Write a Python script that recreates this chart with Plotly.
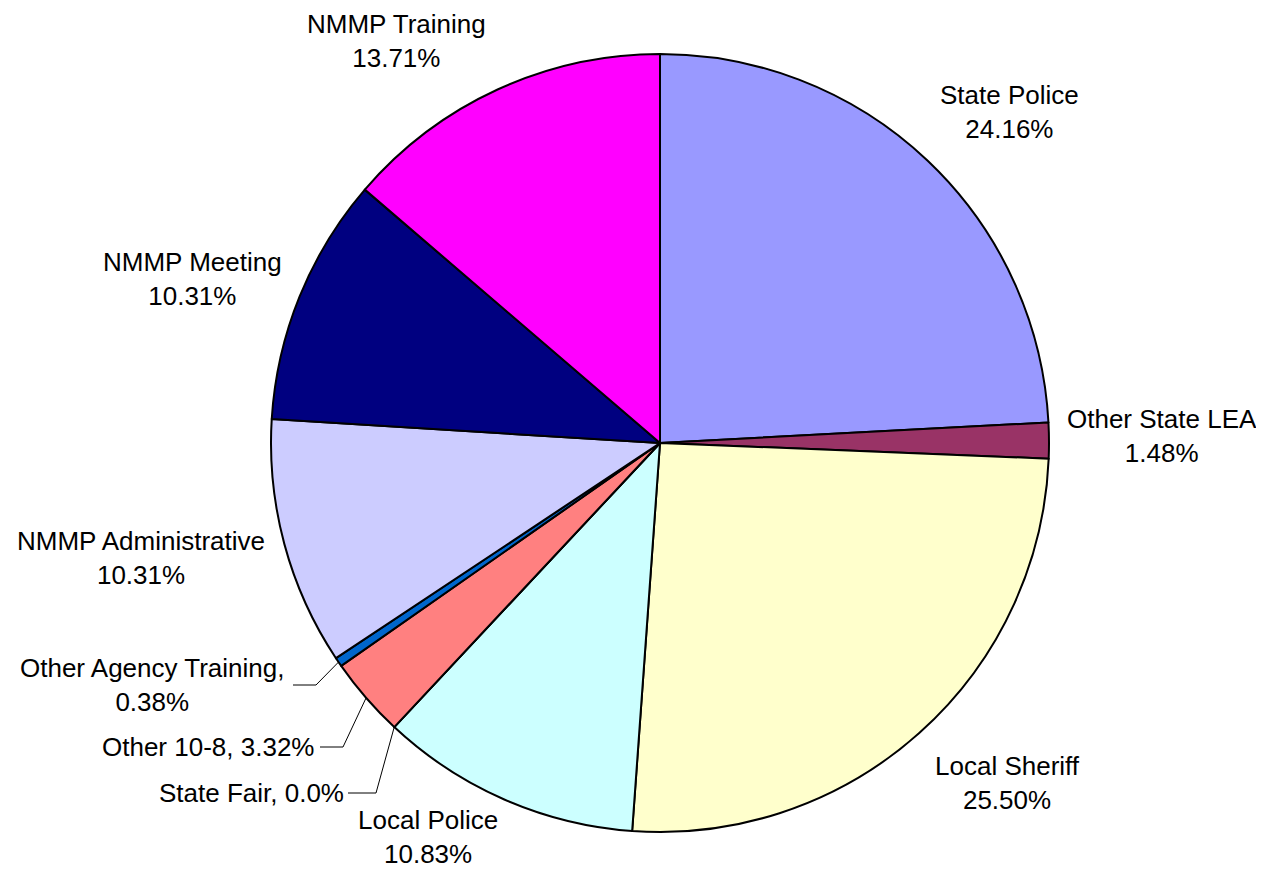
import math
import plotly.graph_objects as go

W, H = 1264, 882
OFF = 8  # page body margin: figure sits at (8, 8)
FW, FH = W - 2 * OFF, H - 2 * OFF

CATEGORIES = [
    "State Police", "Other State LEA", "Local Sheriff", "Local Police",
    "State Fair", "Other 10-8", "Other Agency Training",
    "NMMP Administrative", "NMMP Meeting", "NMMP Training",
]
SHARES = [24.16, 1.48, 25.50, 10.83, 0.0, 3.32, 0.38, 10.31, 10.31, 13.71]
PCT_TEXT = ["24.16%", "1.48%", "25.50%", "10.83%", "0.0%", "3.32%",
            "0.38%", "10.31%", "10.31%", "13.71%"]
COLORS = ["#9999FF", "#993366", "#FFFFCC", "#CCFFFF", "#FFFFFF", "#FF8080",
          "#0066CC", "#CCCCFF", "#000080", "#FF00FF"]

# pie placement in window pixels
CX, CY, R = 660, 443, 389

# label placement in window pixels: (x, y, xanchor, style)
LABELS = {
    "State Police": (1009, 112, "center", "two"),
    "Other State LEA": (1162, 436, "center", "two"),
    "Local Sheriff": (1007, 783, "center", "two"),
    "Local Police": (428, 871, "center", "two"),
    "State Fair": (346, 793, "right", "one"),
    "Other 10-8": (316, 747, "right", "one"),
    "Other Agency Training": (152, 685, "center", "comma"),
    "NMMP Administrative": (141, 558, "center", "two"),
    "NMMP Meeting": (192, 279, "center", "two"),
    "NMMP Training": (396, 41, "center", "two"),
}
ELBOWS = {
    "State Fair": [(376, 793), (348, 793)],
    "Other 10-8": [(343, 747), (320, 747)],
    "Other Agency Training": [(316, 685), (293, 685)],
}


def px(x):
    return (x - OFF) / FW


def py(y):
    return 1 - (y - OFF) / FH


fig = go.Figure(go.Pie(
    labels=CATEGORIES,
    values=SHARES,
    sort=False,
    direction="clockwise",
    rotation=0,
    textinfo="none",
    hoverinfo="label+percent",
    marker=dict(colors=COLORS, line=dict(color="black", width=2)),
    domain=dict(x=[px(CX - R), px(CX + R)], y=[py(CY + R), py(CY - R)]),
    showlegend=False,
))

total = sum(SHARES)
cum = 0.0
annotations = []
shapes = []
for name, share, pct in zip(CATEGORIES, SHARES, PCT_TEXT):
    mid = (cum + share / 2) / total * 2 * math.pi
    cum += share
    x, y, anchor, style = LABELS[name]
    if style == "two":
        text = f"{name}<br>{pct}"
    elif style == "comma":
        text = f"{name},<br>{pct}"
    else:
        text = f"{name}, {pct}"
    # Local Police sits at the very bottom edge: anchor it to the bottom
    yanchor = "bottom" if name == "Local Police" else "middle"
    annotations.append(dict(
        x=px(x), y=py(y), xref="paper", yref="paper",
        text=text, showarrow=False, xanchor=anchor, yanchor=yanchor,
        align="center" if anchor == "center" else "right",
        font=dict(family="Liberation Sans, Arial, sans-serif", size=26, color="black"),
    ))
    if name in ELBOWS:
        ex = CX + R * math.sin(mid)
        ey = CY - R * math.cos(mid)
        pts = [(ex, ey)] + ELBOWS[name]
        path = "M " + " L ".join(f"{px(a)},{py(b)}" for a, b in pts)
        shapes.append(dict(type="path", path=path, xref="paper", yref="paper",
                           line=dict(color="black", width=1)))

fig.update_layout(
    width=FW, height=FH,
    margin=dict(l=0, r=0, t=0, b=0),
    paper_bgcolor="white", plot_bgcolor="white",
    annotations=annotations, shapes=shapes,
)
fig.write_html("out.html")
